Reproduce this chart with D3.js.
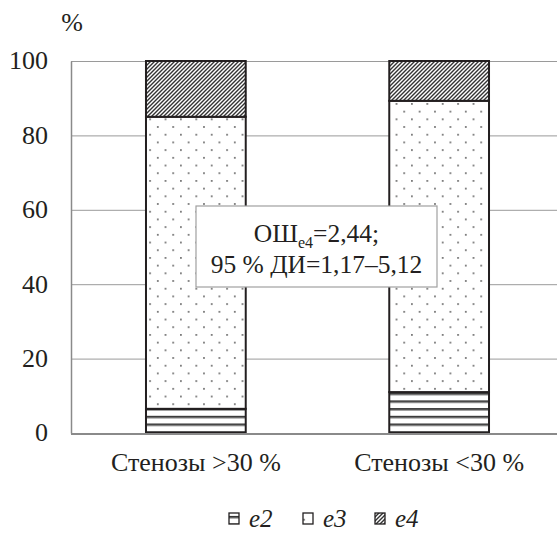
<!DOCTYPE html>
<html><head><meta charset="utf-8">
<script src="https://cdn.jsdelivr.net/npm/d3@7"></script>
<style>body{margin:0;background:#fff}svg{display:block}svg text{font-family:"Liberation Serif","Times New Roman",serif;fill:#231f20}</style>
</head><body>
<svg id="c" width="558" height="533"></svg>
<script>
const categories = ["Стенозы >30 %", "Стенозы <30 %"];
const e2 = [6.5, 11.0];
const e3 = [78.5, 78.3];
const e4 = [15.0, 10.7];
const seriesNames = ["e2", "e3", "e4"];
const yTicks = [0, 20, 40, 60, 80, 100];

const svg = d3.select("#c");
const defs = svg.append("defs");
const pH = defs.append("pattern").attr("id","p-e2").attr("patternUnits","userSpaceOnUse").attr("width",10).attr("height",7.7);
pH.append("rect").attr("width",10).attr("height",7.7).attr("fill","#fff");
pH.append("rect").attr("y",0).attr("width",10).attr("height",1.8).attr("fill","#333");
pH.append("rect").attr("y",1.8).attr("width",10).attr("height",1).attr("fill","#999");
const pD = defs.append("pattern").attr("id","p-e3").attr("patternUnits","userSpaceOnUse").attr("width",15.4).attr("height",15.4);
pD.append("rect").attr("width",15.4).attr("height",15.4).attr("fill","#fff");
pD.append("rect").attr("x",3).attr("y",3).attr("width",1.6).attr("height",1.6).attr("fill","#555");
pD.append("rect").attr("x",10.7).attr("y",10.7).attr("width",1.6).attr("height",1.6).attr("fill","#555");
const pS = defs.append("pattern").attr("id","p-e4").attr("patternUnits","userSpaceOnUse").attr("width",4).attr("height",4);
pS.append("rect").attr("width",4).attr("height",4).attr("fill","#fff");
pS.append("path").attr("d","M-1,1 L1,-1 M0,4 L4,0 M3,5 L5,3").attr("stroke","#333").attr("stroke-width",1.4);

const x0 = 71, x1 = 557, yTop = 61, yBot = 433;
const y = d3.scaleLinear().domain([0,100]).range([yBot, yTop]);
const x = d3.scaleBand().domain(categories).range([73, 562]).paddingInner(0.59).paddingOuter(0.3);

svg.append("g").selectAll("line").data(yTicks.filter(t=>t>0)).join("line")
  .attr("x1",x0).attr("x2",x1).attr("y1",d=>y(d)+0.5).attr("y2",d=>y(d)+0.5)
  .attr("stroke","#9a9a9a").attr("stroke-width",1);

const yAxis = d3.axisLeft(y).tickValues(yTicks).tickSize(0).tickPadding(23);
const gy = svg.append("g").attr("transform",`translate(${x0},0)`).call(yAxis);
gy.attr("font-family",null).attr("font-size",null);
gy.select(".domain").attr("stroke","#8a8a8a").attr("stroke-width",1.5);
gy.selectAll("text").style("font-size","26px").attr("dy","0.3em").attr("fill","#231f20");

const rows = categories.map((c,i)=>({cat:c, e2:e2[i], e3:e3[i], e4:e4[i]}));
const stack = d3.stack().keys(seriesNames)(rows);
const g = svg.append("g");
stack.forEach(s=>{
  g.selectAll(null).data(s).join("rect")
    .attr("x",d=>x(d.data.cat)).attr("width",x.bandwidth())
    .attr("y",d=>y(d[1])).attr("height",d=>y(d[0])-y(d[1]))
    .attr("fill",`url(#p-${s.key})`).attr("stroke","#231f20").attr("stroke-width",2);
});

const xAxis = d3.axisBottom(x).tickSize(0).tickPadding(20);
const gx = svg.append("g").attr("transform",`translate(0,${yBot})`).call(xAxis);
gx.attr("font-family",null).attr("font-size",null);
gx.select(".domain").remove();
svg.append("line").attr("x1",x0).attr("x2",x1).attr("y1",yBot+1).attr("y2",yBot+1).attr("stroke","#8a8a8a").attr("stroke-width",2);
gx.selectAll("text").style("font-size","26px").attr("dy","0.71em").attr("fill","#231f20");

svg.append("text").attr("x",72).attr("y",31).attr("text-anchor","middle").style("font-size","26px").text("%");

svg.append("rect").attr("x",196).attr("y",206).attr("width",241).attr("height",81).attr("fill","#fff").attr("stroke","#a0a0a0").attr("stroke-width",1.2);
const t1 = svg.append("text").attr("x",316.5).attr("y",242).attr("text-anchor","middle").style("font-size","25.5px");
t1.append("tspan").text("ОШ");
t1.append("tspan").attr("dy",6).style("font-size","16px").text("e4");
t1.append("tspan").attr("dy",-6).text("=2,44;");
svg.append("text").attr("x",316.5).attr("y",273).attr("text-anchor","middle").style("font-size","25.5px").text("95 % ДИ=1,17–5,12");

const legX = [229, 303, 375];
const lg = svg.append("g");
seriesNames.forEach((n,i)=>{
  lg.append("rect").attr("x",legX[i]).attr("y",513).attr("width",10).attr("height",11)
    .attr("fill",`url(#p-${n})`).attr("stroke","#231f20").attr("stroke-width",1.3);
  lg.append("text").attr("x",legX[i]+20).attr("y",527).style("font-size","25px").style("font-style","italic").text(n);
});
</script>
</body></html>
